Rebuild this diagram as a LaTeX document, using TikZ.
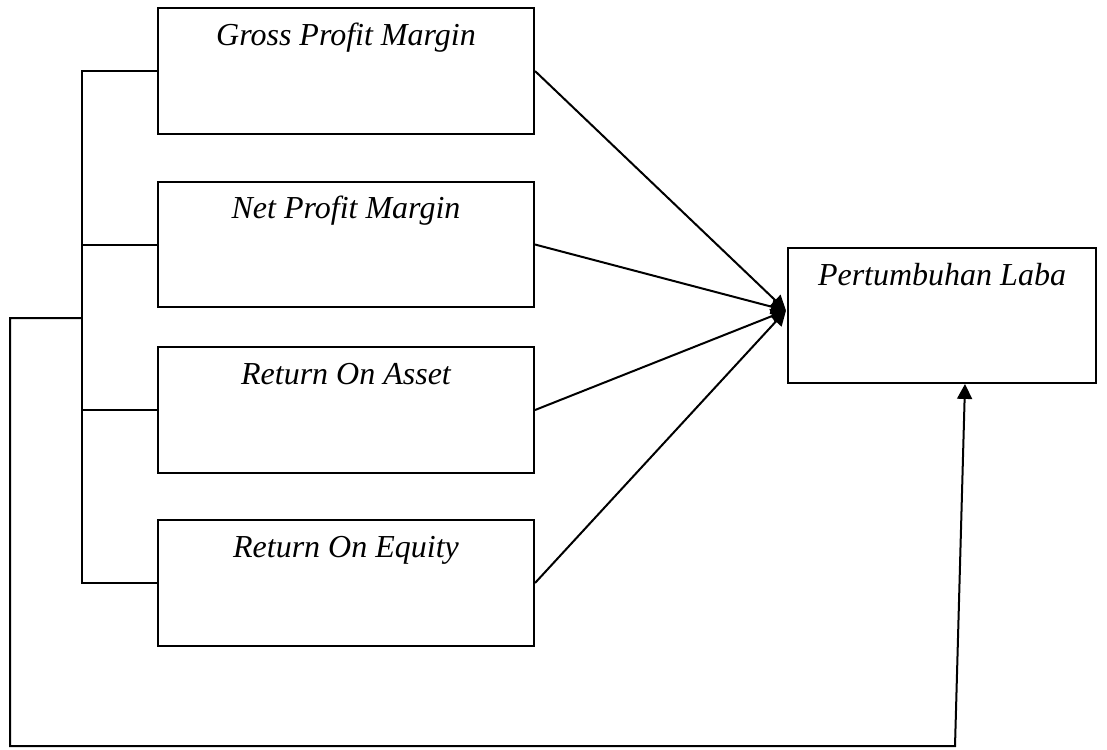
\documentclass[tikz,border=0pt]{standalone}
\usepackage{fontspec}
\setmainfont{Liberation Serif}
\usetikzlibrary{arrows.meta,calc}

\begin{document}
\begin{tikzpicture}[x=0.375pt,y=-0.375pt,line width=0.75pt,
    var/.style={draw,rectangle,minimum width=141pt,minimum height=47pt},
    hasil/.style={draw,rectangle,minimum width=115.5pt,minimum height=50.6pt},
    judul/.style={anchor=base,yshift=-14.25pt,font=\fontsize{12}{14}\selectfont\itshape},
    panah/.style={-{Triangle[length=5.6pt,width=5.6pt]}}]

    \useasboundingbox (0,0) rectangle (1107,749);

    %% variabel X
    \node (GPM) [var,label={[judul]north:Gross Profit Margin}] at (346,71) {};
    \node (NPM) [var,label={[judul]north:Net Profit Margin}] at (346,244.5) {};
    \node (ROA) [var,label={[judul]north:Return On Asset}] at (346,410) {};
    \node (ROE) [var,label={[judul]north:Return On Equity}] at (346,583) {};

    %% variabel Y
    \node (Laba) [hasil,label={[judul]north:Pertumbuhan Laba}] at (942,315.5) {};

    %% kurung kiri
    \coordinate (Kurung) at (82,0);
    \draw (GPM.west) -- (GPM.west -| Kurung) -- (ROE.west -| Kurung) -- (ROE.west);
    \draw (NPM.west) -- (NPM.west -| Kurung);
    \draw (ROA.west) -- (ROA.west -| Kurung);

    %% simultan
    \coordinate (S1) at (82,318);
    \coordinate (S2) at (10,318);
    \coordinate (S3) at (10,746);
    \coordinate (S4) at (955,746);
    \draw[panah] (S1) -- (S2) -- (S3) -- (S4) -- ($(Laba.south)+(23,0)$);

    %% parsial
    \coordinate (Tuju) at ($(Laba.west)+(-1,-5)$);
    \draw[panah] (GPM.east) -- (Tuju);
    \draw[panah] (NPM.east) -- (Tuju);
    \draw[panah] (ROA.east) -- (Tuju);
    \draw[panah] (ROE.east) -- (Tuju);

\end{tikzpicture}
\end{document}
